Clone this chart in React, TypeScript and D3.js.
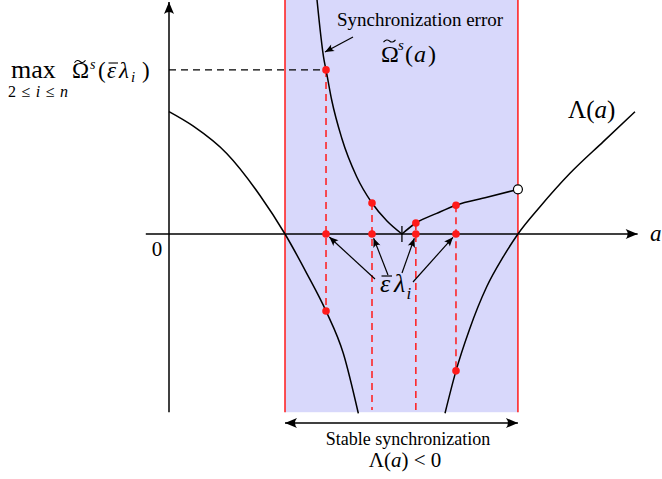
import React from 'react';
import * as d3 from 'd3';

const W = 662;
const H = 479;

// Lyapunov exponent Λ(a), two branches (a, value)
const lambdaLeft: [number, number][] = [
  [0, 2.78], [0.524, 2.45], [1.244, 1.83], [1.961, 0.875], [2.5, 0],
  [2.968, -0.893], [3.384, -1.75], [3.756, -2.71], [4.08, -4.075],
];
const lambdaRight: [number, number][] = [
  [5.948, -4.075], [6.185, -3.11], [6.472, -2.18], [6.847, -1.2], [7.205, -0.516],
  [7.52, 0], [7.996, 0.62], [8.642, 1.38], [9.36, 2.1], [10.043, 2.78],
];

// synchronization error Ω̃s(a), two branches meeting at the cusp
const omegaLeft: [number, number][] = [
  [3.19, 5.32], [3.341, 3.955], [3.384, 3.73], [3.506, 3.045], [3.722, 2.182],
  [4.045, 1.302], [4.375, 0.705], [4.698, 0.295], [5.02, 0],
];
const omegaRight: [number, number][] = [
  [5.02, 0], [5.32, 0.25], [5.77, 0.47], [6.185, 0.655], [6.853, 0.834], [7.52, 1.016],
];
const omegaCusp = 5.02;
const omegaEnd: [number, number] = [7.52, 1.016];

// scaled eigenvalues ε̄λi and the curve values above/below them
const epsLambda = [3.384, 4.375, 5.32, 6.185];
const omegaAtEig = [3.73, 0.705, 0.25, 0.655];
const lambdaAtEig: (number | null)[] = [-1.75, null, null, -3.11];

const stableRange = [2.5, 7.52];
const aMin = -0.5;
const aMax = 10.1;
const vTop = 5.32;
const vBottom = -4.05;

const x = d3.scaleLinear().domain([0, 10]).range([169, 633]);
const y = d3.scaleLinear().domain([-4, 4]).range([410, 58]);

const curve = d3
  .line<[number, number]>()
  .x(d => x(d[0]))
  .y(d => y(d[1]))
  .curve(d3.curveMonotoneX);

const FONT = "'Liberation Serif', 'Times New Roman', serif";
const RED = '#ff1a1a';
const BLUE = '#d8d8fb';

// arrow from (x0,y0) pointing at target, stopping `gap` px short
function towards(x0: number, y0: number, tx: number, ty: number, gap: number) {
  const dx = tx - x0;
  const dy = ty - y0;
  const len = Math.sqrt(dx * dx + dy * dy);
  return { x1: x0, y1: y0, x2: tx - (dx / len) * gap, y2: ty - (dy / len) * gap };
}

// small tilde accent
function tilde(cx: number, cy: number, w: number) {
  return `M${cx - w / 2},${cy + 1.2} Q${cx - w / 4},${cy - 2.6} ${cx},${cy} T${cx + w / 2},${cy - 1.2}`;
}

const labelStarts: [number, number][] = [[375, 279], [388, 275], [402, 273], [413, 282]];

export default function App() {
  const y0 = y(0);
  return (
    <svg
      width={W}
      height={H}
      style={{ position: 'absolute', left: 0, top: 0, background: '#fff' }}
      fontFamily={FONT}
    >
      <defs>
        <marker id="big" markerUnits="userSpaceOnUse" markerWidth={16} markerHeight={12}
          viewBox="-13 -6 14 12" refX={0} refY={0} orient="auto-start-reverse">
          <path d="M0,0 L-12,-5 Q-8,0 -12,5 Z" fill="#000" />
        </marker>
        <marker id="small" markerUnits="userSpaceOnUse" markerWidth={12} markerHeight={10}
          viewBox="-10 -5 11 10" refX={0} refY={0} orient="auto">
          <path d="M0,0 L-9,-3.8 Q-6,0 -9,3.8 Z" fill="#000" />
        </marker>
      </defs>

      {/* stable synchronization band */}
      <rect
        x={x(stableRange[0])}
        y={y(vTop)}
        width={x(stableRange[1]) - x(stableRange[0])}
        height={y(vBottom) - y(vTop)}
        fill={BLUE}
      />

      {/* axes */}
      <line x1={x(aMin)} x2={x(aMax)} y1={y0} y2={y0} stroke="#000" strokeWidth={1.5} markerEnd="url(#big)" />
      <line x1={x(0)} x2={x(0)} y1={y(vBottom)} y2={y(vTop) + 2} stroke="#000" strokeWidth={1.5} markerEnd="url(#big)" />

      {stableRange.map((a, i) => (
        <line key={i} x1={x(a)} x2={x(a)} y1={y(vTop)} y2={y(vBottom)} stroke={RED} strokeWidth={1.5} />
      ))}

      {/* max level dashed line */}
      <line x1={x(0)} x2={x(epsLambda[0])} y1={y(omegaAtEig[0])} y2={y(omegaAtEig[0])}
        stroke="#000" strokeWidth={1.3} strokeDasharray="7,5" />

      {/* red dashed verticals */}
      {epsLambda.map((a, i) => (
        <line key={i} x1={x(a)} x2={x(a)} y1={y(omegaAtEig[i])}
          y2={y(lambdaAtEig[i] ?? -4)} stroke={RED} strokeWidth={1.5} strokeDasharray="7,5" />
      ))}

      {/* curves */}
      {[lambdaLeft, lambdaRight, omegaLeft, omegaRight].map((d, i) => (
        <path key={i} d={curve(d) ?? ''} fill="none" stroke="#000" strokeWidth={1.5} />
      ))}
      <line x1={x(omegaCusp)} x2={x(omegaCusp)} y1={y0 - 8} y2={y0 + 8} stroke="#000" strokeWidth={1.3} />

      {/* red points */}
      {epsLambda.map((a, i) => (
        <g key={i} fill={RED}>
          <circle cx={x(a)} cy={y0} r={3.8} />
          <circle cx={x(a)} cy={y(omegaAtEig[i])} r={3.8} />
          {lambdaAtEig[i] !== null && <circle cx={x(a)} cy={y(lambdaAtEig[i] as number)} r={3.8} />}
        </g>
      ))}
      <circle cx={x(omegaEnd[0])} cy={y(omegaEnd[1])} r={4.5} fill="#fff" stroke="#000" strokeWidth={1.2} />

      {/* arrows to eigenvalues */}
      {epsLambda.map((a, i) => (
        <line key={i} {...towards(labelStarts[i][0], labelStarts[i][1], x(a), y0, 4.5)}
          stroke="#000" strokeWidth={1.2} markerEnd="url(#small)" />
      ))}
      <line x1={353} y1={37} x2={325} y2={52} stroke="#000" strokeWidth={1.2} markerEnd="url(#small)" />

      {/* stable range double arrow */}
      <line x1={x(stableRange[0])} x2={x(stableRange[1])} y1={423} y2={423}
        stroke="#000" strokeWidth={1.3} markerStart="url(#big)" markerEnd="url(#big)" />

      {/* labels */}
      <text x={650} y={241} fontSize={23} fontStyle="italic">a</text>
      <text x={157} y={256} fontSize={21} textAnchor="middle">0</text>
      <text x={568} y={118} fontSize={25}>
        Λ(<tspan fontStyle="italic">a</tspan>)
      </text>

      <text x={420} y={26} fontSize={19} textAnchor="middle">Synchronization error</text>
      <g fontSize={24}>
        <text x={381} y={62}>Ω</text>
        <path d={tilde(389.5, 41, 12)} fill="none" stroke="#000" strokeWidth={1.1} />
        <text x={398} y={50} fontSize={15} fontStyle="italic">s</text>
        <text x={405} y={62}>(</text>
        <text x={414} y={62} fontStyle="italic">a</text>
        <text x={428} y={62}>)</text>
      </g>

      <text x={11} y={78} fontSize={26}>max</text>
      <text x={8} y={97} fontSize={16} textLength={60} lengthAdjust="spacing">
        2≤<tspan fontStyle="italic">i</tspan>≤<tspan fontStyle="italic">n</tspan>
      </text>
      <g fontSize={23}>
        <text x={72} y={78}>Ω</text>
        <path d={tilde(80, 61.5, 11)} fill="none" stroke="#000" strokeWidth={1.1} />
        <text x={90} y={69} fontSize={14} fontStyle="italic">s</text>
        <text x={98} y={78}>(</text>
        <text x={107} y={78} fontStyle="italic">ε</text>
        <line x1={108.5} x2={118} y1={63} y2={63} stroke="#000" strokeWidth={1.1} />
        <text x={119} y={78} fontStyle="italic">λ</text>
        <text x={131} y={82} fontSize={15} fontStyle="italic">i</text>
        <text x={142} y={78}>)</text>
      </g>

      <g fontSize={26} fontStyle="italic">
        <text x={380} y={292}>ε</text>
        <line x1={381.5} x2={392} y1={276} y2={276} stroke="#000" strokeWidth={1.2} />
        <text x={394} y={292}>λ</text>
        <text x={406.5} y={299} fontSize={17}>i</text>
      </g>

      <text x={408} y={445} fontSize={18} textAnchor="middle">Stable synchronization</text>
      <text x={405} y={467} fontSize={21} textAnchor="middle">
        Λ(<tspan fontStyle="italic">a</tspan>) {'<'} 0
      </text>
    </svg>
  );
}
